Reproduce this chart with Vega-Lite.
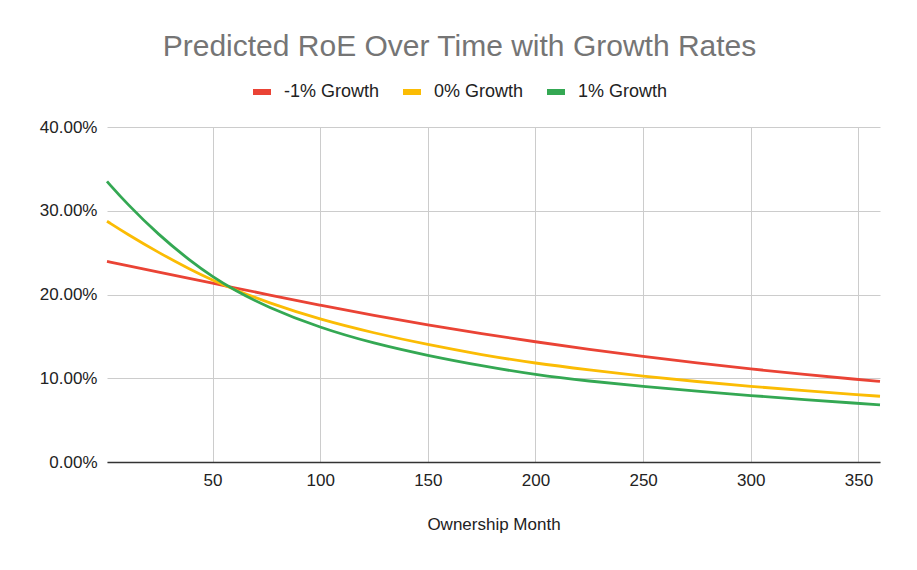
{
  "$schema": "https://vega.github.io/schema/vega-lite/v6.json",
  "autosize": "none",
  "padding": {"left": 107, "top": 127, "right": 37, "bottom": 108},
  "width": 773,
  "height": 335,
  "background": "white",
  "config": {
    "font": "Liberation Sans",
    "view": {"stroke": null},
    "axis": {"labelFont": "Liberation Sans", "titleFont": "Liberation Sans"}
  },
  "title": {
    "text": "Predicted RoE Over Time with Growth Rates",
    "fontSize": 30,
    "fontWeight": "normal",
    "color": "#757575",
    "anchor": "middle",
    "dx": -34,
    "offset": 18
  },
  "data": {
    "values": [
      {"month": 1, "series": "-1% Growth", "roe": 0.2395},
      {"month": 10, "series": "-1% Growth", "roe": 0.2348},
      {"month": 25, "series": "-1% Growth", "roe": 0.2268},
      {"month": 40, "series": "-1% Growth", "roe": 0.2188},
      {"month": 50, "series": "-1% Growth", "roe": 0.2135},
      {"month": 60, "series": "-1% Growth", "roe": 0.2082},
      {"month": 75, "series": "-1% Growth", "roe": 0.2002},
      {"month": 100, "series": "-1% Growth", "roe": 0.1870},
      {"month": 125, "series": "-1% Growth", "roe": 0.1750},
      {"month": 150, "series": "-1% Growth", "roe": 0.1635},
      {"month": 175, "series": "-1% Growth", "roe": 0.1530},
      {"month": 200, "series": "-1% Growth", "roe": 0.1435},
      {"month": 225, "series": "-1% Growth", "roe": 0.1345},
      {"month": 250, "series": "-1% Growth", "roe": 0.1260},
      {"month": 275, "series": "-1% Growth", "roe": 0.1182},
      {"month": 300, "series": "-1% Growth", "roe": 0.1110},
      {"month": 325, "series": "-1% Growth", "roe": 0.1045},
      {"month": 350, "series": "-1% Growth", "roe": 0.0985},
      {"month": 360, "series": "-1% Growth", "roe": 0.0962},
      {"month": 1, "series": "0% Growth", "roe": 0.2875},
      {"month": 10, "series": "0% Growth", "roe": 0.2727},
      {"month": 25, "series": "0% Growth", "roe": 0.2499},
      {"month": 40, "series": "0% Growth", "roe": 0.2295},
      {"month": 50, "series": "0% Growth", "roe": 0.2172},
      {"month": 60, "series": "0% Growth", "roe": 0.2060},
      {"month": 75, "series": "0% Growth", "roe": 0.1910},
      {"month": 100, "series": "0% Growth", "roe": 0.1700},
      {"month": 125, "series": "0% Growth", "roe": 0.1540},
      {"month": 150, "series": "0% Growth", "roe": 0.1400},
      {"month": 175, "series": "0% Growth", "roe": 0.1280},
      {"month": 200, "series": "0% Growth", "roe": 0.1178},
      {"month": 225, "series": "0% Growth", "roe": 0.1100},
      {"month": 250, "series": "0% Growth", "roe": 0.1025},
      {"month": 275, "series": "0% Growth", "roe": 0.0960},
      {"month": 300, "series": "0% Growth", "roe": 0.0903},
      {"month": 325, "series": "0% Growth", "roe": 0.0850},
      {"month": 350, "series": "0% Growth", "roe": 0.0803},
      {"month": 360, "series": "0% Growth", "roe": 0.0785},
      {"month": 1, "series": "1% Growth", "roe": 0.3350},
      {"month": 10, "series": "1% Growth", "roe": 0.3090},
      {"month": 25, "series": "1% Growth", "roe": 0.2710},
      {"month": 40, "series": "1% Growth", "roe": 0.2395},
      {"month": 50, "series": "1% Growth", "roe": 0.2213},
      {"month": 60, "series": "1% Growth", "roe": 0.2055},
      {"month": 75, "series": "1% Growth", "roe": 0.1855},
      {"month": 100, "series": "1% Growth", "roe": 0.1600},
      {"month": 125, "series": "1% Growth", "roe": 0.1415},
      {"month": 150, "series": "1% Growth", "roe": 0.1270},
      {"month": 175, "series": "1% Growth", "roe": 0.1148},
      {"month": 200, "series": "1% Growth", "roe": 0.1040},
      {"month": 225, "series": "1% Growth", "roe": 0.0965},
      {"month": 250, "series": "1% Growth", "roe": 0.0903},
      {"month": 275, "series": "1% Growth", "roe": 0.0845},
      {"month": 300, "series": "1% Growth", "roe": 0.0793},
      {"month": 325, "series": "1% Growth", "roe": 0.0745},
      {"month": 350, "series": "1% Growth", "roe": 0.0700},
      {"month": 360, "series": "1% Growth", "roe": 0.0683}
    ]
  },
  "mark": {"type": "line", "strokeWidth": 2.8, "interpolate": "basis"},
  "encoding": {
    "x": {
      "field": "month",
      "type": "quantitative",
      "title": "Ownership Month",
      "scale": {"domain": [1, 360], "nice": false, "zero": false},
      "axis": {
        "values": [50, 100, 150, 200, 250, 300, 350],
        "grid": true,
        "gridColor": "#cccccc",
        "ticks": false,
        "domainColor": "#333333",
        "domainWidth": 1.5,
        "labelFontSize": 17,
        "labelColor": "#222222",
        "labelPadding": 10,
        "titleFontSize": 17,
        "titleFontWeight": "normal",
        "titleColor": "#222222",
        "titlePadding": 28
      }
    },
    "y": {
      "field": "roe",
      "type": "quantitative",
      "title": null,
      "scale": {"domain": [0, 0.4], "nice": false},
      "axis": {
        "values": [0, 0.1, 0.2, 0.3, 0.4],
        "format": ".2%",
        "grid": true,
        "gridColor": "#cccccc",
        "ticks": false,
        "domain": false,
        "labelFontSize": 17,
        "labelColor": "#222222",
        "labelPadding": 10
      }
    },
    "color": {
      "field": "series",
      "type": "nominal",
      "sort": ["-1% Growth", "0% Growth", "1% Growth"],
      "scale": {"domain": ["-1% Growth", "0% Growth", "1% Growth"], "range": ["#ea4335", "#fbbc04", "#34a853"]},
      "legend": {
        "title": null,
        "orient": "none",
        "direction": "horizontal",
        "gridAlign": "none",
        "legendX": 143,
        "legendY": -47,
        "symbolType": "stroke",
        "symbolSize": 324,
        "symbolStrokeWidth": 6,
        "labelFontSize": 18,
        "labelColor": "#222222",
        "labelOffset": 10,
        "columnPadding": 11
      }
    }
  }
}
